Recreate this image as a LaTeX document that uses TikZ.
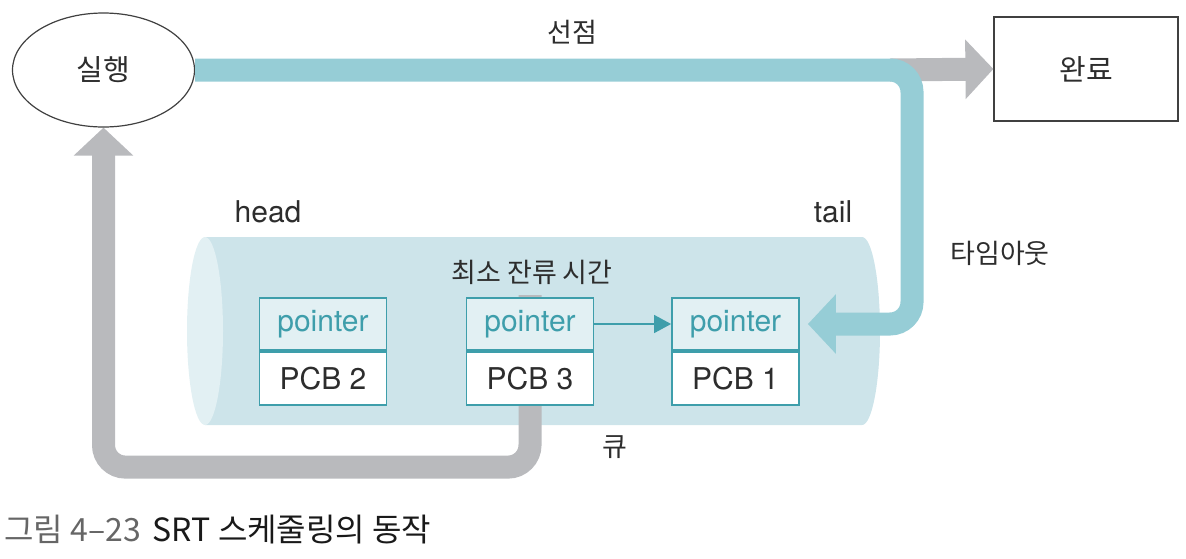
\documentclass[tikz,border=0pt]{standalone}
\usepackage{fontspec}
\setmainfont{TeX Gyre Heros}
\newfontfamily\kr{Noto Sans CJK KR}
\usetikzlibrary{arrows.meta,positioning,shapes.geometric,backgrounds}

\definecolor{bandteal}{RGB}{150,205,214}
\definecolor{bandgray}{RGB}{185,186,189}
\definecolor{cylbody}{RGB}{205,228,234}
\definecolor{cylcap}{RGB}{226,240,243}
\definecolor{boxteal}{RGB}{62,158,171}
\definecolor{txtdark}{RGB}{45,45,45}

\tikzset{
  latin/.style={font=\fontsize{15}{18}\selectfont, text=txtdark},
  hangul/.style={font=\kr\fontsize{13.5}{16}\selectfont, text=txtdark},
  statenode/.style={ellipse, draw=black!75, line width=0.6pt, fill=white,
    minimum width=91pt, minimum height=57pt, inner sep=0pt,
    font=\kr\fontsize{14.5}{17}\selectfont, text=txtdark},
  donebox/.style={rectangle, draw=black!75, line width=0.6pt, fill=white,
    minimum width=92pt, minimum height=52pt, inner sep=0pt,
    font=\kr\fontsize{14.5}{17}\selectfont, text=txtdark},
  ptrbox/.style={rectangle, draw=boxteal, line width=0.9pt, fill=cylcap,
    minimum width=63.5pt, minimum height=26pt, inner sep=0pt,
    font=\fontsize{15}{18}\selectfont, text=boxteal},
  pcbbox/.style={rectangle, draw=boxteal, line width=0.9pt, fill=white,
    minimum width=63.5pt, minimum height=26.5pt, inner sep=0pt,
    font=\fontsize{15}{18}\selectfont, text=txtdark},
  tealband/.style={draw=bandteal, line width=11.5pt, rounded corners=11pt,
    -{Triangle[length=14pt,width=29pt]}},
  grayband/.style={draw=bandgray, line width=11.5pt, rounded corners=11pt,
    -{Triangle[length=14pt,width=29pt]}},
  linkarrow/.style={draw=boxteal, line width=0.7pt,
    -{Triangle[length=8.5pt,width=9pt]}}
}

\begin{document}
\begin{tikzpicture}[x=0.5pt, y=0.5pt]
\useasboundingbox (0,0) rectangle (1186,-558);

% States
\node[statenode] (run) at (103.5,-70) {실행};
\node[donebox] (done) at (1086,-69) {완료};

% PCB queue
\node[ptrbox] (ptr2) at (323,-324) {pointer};
\node[pcbbox, below=0pt of ptr2] (pcb2) {PCB 2};
\node[ptrbox] (ptr3) at (530,-324) {pointer};
\node[pcbbox, below=0pt of ptr3] (pcb3) {PCB 3};
\node[ptrbox] (ptr1) at (735.5,-324) {pointer};
\node[pcbbox, below=0pt of ptr1] (pcb1) {PCB 1};

% Cylinder and return band
\begin{pgfonlayer}{background}
\fill[cylbody] (205,-237) -- (862,-237)
    arc[start angle=90, end angle=-90, x radius=18, y radius=94]
    -- (205,-425) -- cycle;
\fill[cylcap] (205,-331) ellipse[x radius=18, y radius=94];
\draw[grayband] ([yshift=1pt]ptr3.north) -- ++(0,-172) -| (run.south);
\end{pgfonlayer}

% Finish
\coordinate (fork) at (890,-70);
\draw[grayband] (fork) -- (done.west);

% Preemption / timeout
\draw[tealband] (run.east) -- (912,-70) -- (912,-324)
    -- ([xshift=4pt]ptr1.east);

% Link
\draw[linkarrow] (ptr3.east) -- (ptr1.west);

% Labels
\node[hangul] (lblpre) at (572,-32) {선점};
\node[latin] (lblhead) at (268,-212) {head};
\node[latin] (lbltail) at (833,-212) {tail};
\node[hangul] (lbltime) at (1000,-253) {타임아웃};
\node[hangul] (lblmin) at (532,-272) {최소 잔류 시간};
\node[hangul] (lblq) at (615,-447) {큐};
\node[anchor=west, font=\kr\fontsize{16}{19}\selectfont, inner sep=0pt]
    (caption) at (4,-530)
    {\textcolor{black!60}{그림 4–23}\hspace{6pt}\textcolor{black!90}{SRT 스케줄링의 동작}};

\end{tikzpicture}
\end{document}
